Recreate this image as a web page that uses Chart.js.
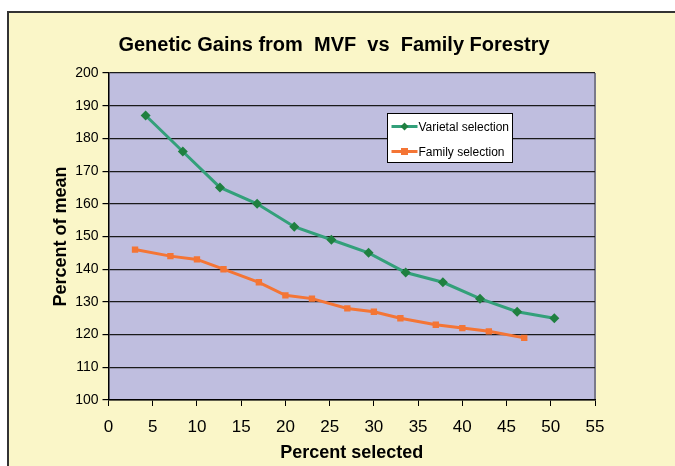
<!DOCTYPE html>
<html>
<head>
<meta charset="utf-8">
<script src="https://cdn.jsdelivr.net/npm/chart.js@4"></script>
<style>
  html, body { margin: 0; padding: 0; background: #fff; overflow: hidden; }
  #wrap { position: relative; width: 675px; height: 466px; }
  #frame {
    position: absolute; left: 7px; top: 11px; width: 720px; height: 520px;
    background: #faf6c8; border: 2px solid #333;
  }
  #chart { position: absolute; left: 0; top: 0; }
</style>
</head>
<body>
<div id="wrap">
  <div id="frame"></div>
  <canvas id="chart" width="675" height="466"></canvas>
</div>
<script>
/* ── Data ────────────────────────────────────────────────────────────────── */
const varietalX = [4.2, 8.4, 12.6, 16.8, 21, 25.2, 29.4, 33.6, 37.8, 42, 46.2, 50.4];
const varietalY = [187, 176, 165, 160, 153, 149, 145, 139, 136, 131, 127, 125];
const familyX   = [3, 7, 10, 13, 17, 20, 23, 27, 30, 33, 37, 40, 43, 47];
const familyY   = [146, 144, 143, 140, 136, 132, 131, 128, 127, 125, 123, 122, 121, 119];
const seriesLabels = ['Varietal selection', 'Family selection'];

const FONT = '"Liberation Sans", Arial, sans-serif';
const LAVENDER = '#bfbedf';

const toPoints = (xs, ys) => xs.map((x, i) => ({ x, y: ys[i] }));

/* ── Plot background, title, legend ─────────────────────────────────────── */
const decor = {
  id: 'decor',
  beforeDraw(chart) {
    const { ctx, chartArea: a } = chart;
    ctx.save();
    ctx.fillStyle = LAVENDER;
    ctx.fillRect(a.left, a.top, a.right - a.left, a.bottom - a.top);
    ctx.strokeStyle = '#7a7a8a';
    ctx.lineWidth = 2;
    ctx.beginPath();
    ctx.moveTo(a.right, a.top);
    ctx.lineTo(a.right, a.bottom);
    ctx.stroke();
    ctx.restore();
  },
  afterDraw(chart) {
    const { ctx } = chart;
    ctx.save();
    // title
    ctx.fillStyle = '#000';
    ctx.font = 'bold 20px ' + FONT;
    ctx.textAlign = 'center';
    ctx.textBaseline = 'middle';
    ctx.fillText('Genetic Gains from  MVF  vs  Family Forestry', 334, 45);

    // legend
    const bx = 387.5, by = 113.5, bw = 125, bh = 49;
    ctx.fillStyle = '#fff';
    ctx.fillRect(bx, by, bw, bh);
    ctx.strokeStyle = '#000';
    ctx.lineWidth = 1;
    ctx.strokeRect(bx, by, bw, bh);
    ctx.font = '12px ' + FONT;
    ctx.textAlign = 'left';
    chart.data.datasets.forEach((ds, i) => {
      const cy = by + 13 + i * 25;
      ctx.strokeStyle = ds.borderColor;
      ctx.lineWidth = 3;
      ctx.beginPath();
      ctx.moveTo(bx + 4, cy);
      ctx.lineTo(bx + 30, cy);
      ctx.stroke();
      ctx.fillStyle = ds.pointBackgroundColor;
      if (ds.pointStyle === 'rectRot') {
        ctx.beginPath();
        ctx.moveTo(bx + 17, cy - 4);
        ctx.lineTo(bx + 21, cy);
        ctx.lineTo(bx + 17, cy + 4);
        ctx.lineTo(bx + 13, cy);
        ctx.closePath();
        ctx.fill();
      } else {
        ctx.fillRect(bx + 13.5, cy - 3.5, 7, 7);
      }
      ctx.fillStyle = '#000';
      ctx.fillText(ds.label, bx + 31, cy + 1);
    });
    ctx.restore();
  }
};

/* ── Chart ───────────────────────────────────────────────────────────────── */
new Chart(document.getElementById('chart'), {
  type: 'line',
  data: {
    datasets: [{
      label: seriesLabels[0],
      data: toPoints(varietalX, varietalY),
      borderColor: '#33a07a',
      borderWidth: 3,
      pointStyle: 'rectRot',
      pointRadius: 5,
      pointBackgroundColor: '#1f8040',
      pointBorderColor: '#1f8040',
      pointBorderWidth: 0,
      tension: 0,
    }, {
      label: seriesLabels[1],
      data: toPoints(familyX, familyY),
      borderColor: '#f47535',
      borderWidth: 3,
      pointStyle: 'rect',
      pointRadius: 4.5,
      pointBackgroundColor: '#f47535',
      pointBorderColor: '#f47535',
      pointBorderWidth: 0,
      tension: 0,
    }],
  },
  options: {
    responsive: false,
    animation: false,
    layout: { padding: { left: 0, right: 80, top: 73, bottom: 0 } },
    plugins: { legend: { display: false }, tooltip: { enabled: false } },
    scales: {
      x: {
        type: 'linear',
        min: 0, max: 55,
        afterFit: s => { s.height = 66; },
        ticks: { stepSize: 5, color: '#000', padding: 11, font: { family: FONT, size: 17 } },
        grid: { drawOnChartArea: false, drawTicks: true, tickLength: 6, tickColor: '#000' },
        border: { color: '#000', width: 1.5 },
        title: {
          display: true, text: 'Percent selected', color: '#000',
          font: { family: FONT, size: 18, weight: 'bold' }, padding: { top: 0, bottom: 2 },
        },
      },
      y: {
        min: 100, max: 200,
        afterFit: s => { s.width = 108.5; },
        ticks: { stepSize: 10, color: '#000', padding: 4, font: { family: FONT, size: 14 } },
        grid: { color: '#1a1a1a', lineWidth: 1.2, tickLength: 6, tickColor: '#000' },
        border: { color: '#000', width: 1.5 },
        title: {
          display: true, text: 'Percent of mean', color: '#000',
          font: { family: FONT, size: 18, weight: 'bold' }, padding: { top: 50, bottom: 0 },
        },
      },
    },
  },
  plugins: [decor],
});
</script>
</body>
</html>
